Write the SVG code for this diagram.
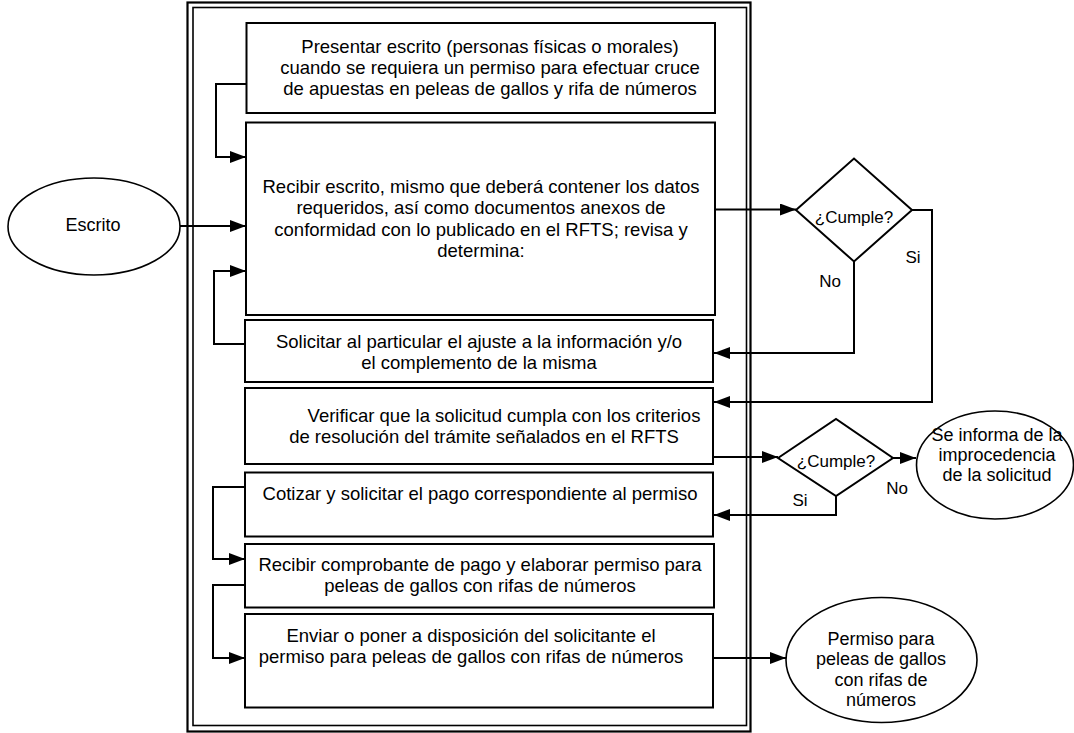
<svg xmlns="http://www.w3.org/2000/svg" width="1074" height="733" viewBox="0 0 1074 733">
  <style>
    text { font-family: "Liberation Sans", Arial, sans-serif; fill: #000; }
    .t { font-size: 18.5px; text-anchor: middle; }
    .e { font-size: 18px; text-anchor: middle; }
    .d { font-size: 17px; text-anchor: middle; }
    .lbl { font-size: 17px; text-anchor: middle; }
    .box { fill: #fff; stroke: #000; stroke-width: 2; }
    .oval { fill: #fff; stroke: #000; stroke-width: 1.6; }
    .dia { fill: #fff; stroke: #000; stroke-width: 2; }
    .frame-out { fill: none; stroke: #000; stroke-width: 2.2; }
    .frame-in { fill: none; stroke: #000; stroke-width: 1.6; }
    .wire { fill: none; stroke: #000; stroke-width: 2; }
  </style>
  <defs>
    <marker id="arrow" markerUnits="userSpaceOnUse" viewBox="0 0 16 12" refX="16" refY="6" markerWidth="16" markerHeight="12" orient="auto">
      <path d="M0,0 L16,6 L0,12 Z" fill="#000"/>
    </marker>
  </defs>

  <rect width="1074" height="733" fill="#fff"/>

  <!-- double frame around the process column -->
  <g id="frame">
    <rect class="frame-out" x="187.5" y="2.5" width="563" height="729"/>
    <rect class="frame-in" x="193" y="7.5" width="553.5" height="718"/>
  </g>

  <!-- process steps -->
  <g id="n-presentar">
    <rect class="box" x="246.5" y="23" width="468.5" height="90"/>
    <text class="t" x="490" y="52.5">Presentar escrito (personas físicas o morales)</text>
    <text class="t" x="490" y="73.5">cuando se requiera un permiso para efectuar cruce</text>
    <text class="t" x="490" y="94.5">de apuestas en peleas de gallos y rifa de números</text>
  </g>

  <g id="n-recibir">
    <rect class="box" x="246" y="122.5" width="469" height="192.5"/>
    <text class="t" x="481" y="192.5">Recibir escrito, mismo que deberá contener los datos</text>
    <text class="t" x="481" y="214">requeridos, así como documentos anexos de</text>
    <text class="t" x="481" y="235.5">conformidad con lo publicado en el RFTS; revisa y</text>
    <text class="t" x="481" y="257">determina:</text>
  </g>

  <g id="n-solicitar">
    <rect class="box" x="245" y="320" width="468" height="62"/>
    <text class="t" x="479" y="348">Solicitar al particular el ajuste a la información y/o</text>
    <text class="t" x="479" y="369">el complemento de la misma</text>
  </g>

  <g id="n-verificar">
    <rect class="box" x="245" y="388" width="468" height="76"/>
    <text class="t" x="504" y="421.5">Verificar que la solicitud cumpla con los criterios</text>
    <text class="t" x="484" y="442.5">de resolución del trámite señalados en el RFTS</text>
  </g>

  <g id="n-cotizar">
    <rect class="box" x="245" y="472.5" width="468" height="64"/>
    <text class="t" x="480" y="499.5">Cotizar y solicitar el pago correspondiente al permiso</text>
  </g>

  <g id="n-comprobante">
    <rect class="box" x="245" y="544" width="469" height="63.5"/>
    <text class="t" x="480" y="571">Recibir comprobante de pago y elaborar permiso para</text>
    <text class="t" x="480" y="591.5">peleas de gallos con rifas de números</text>
  </g>

  <g id="n-enviar">
    <rect class="box" x="245" y="614" width="468" height="93.5"/>
    <text class="t" x="471" y="641.5">Enviar o poner a disposición del solicitante el</text>
    <text class="t" x="471" y="662.5">permiso para peleas de gallos con rifas de números</text>
  </g>

  <!-- connectors -->
  <g id="connectors">
    <path class="wire" d="M180,226 H246" marker-end="url(#arrow)"/>
    <path class="wire" d="M246.5,84 H216 V157 H246" marker-end="url(#arrow)"/>
    <path class="wire" d="M245,344 H214 V271 H246" marker-end="url(#arrow)"/>
    <path class="wire" d="M715,209.5 H796" marker-end="url(#arrow)"/>
    <path class="wire" d="M854,262 V353 H714" marker-end="url(#arrow)"/>
    <path class="wire" d="M912,210 H932 V402 H714" marker-end="url(#arrow)"/>
    <path class="wire" d="M713,457 H778" marker-end="url(#arrow)"/>
    <path class="wire" d="M893,458 H916" marker-end="url(#arrow)"/>
    <path class="wire" d="M836,496 V515 H714" marker-end="url(#arrow)"/>
    <path class="wire" d="M245,487 H213 V559 H245" marker-end="url(#arrow)"/>
    <path class="wire" d="M245,585 H213 V658 H245" marker-end="url(#arrow)"/>
    <path class="wire" d="M713,658 H786" marker-end="url(#arrow)"/>
    <text class="lbl" x="830" y="287">No</text>
    <text class="lbl" x="913" y="262.5">Si</text>
    <text class="lbl" x="897" y="494">No</text>
    <text class="lbl" x="800" y="506">Si</text>
  </g>

  <!-- decisions -->
  <g id="n-cumple-1">
    <polygon class="dia" points="796,210 854,158.5 912,210 854,261.5"/>
    <text class="d" x="854" y="223">¿Cumple?</text>
  </g>

  <g id="n-cumple-2">
    <polygon class="dia" points="778,458 836,419 893,458 836,496"/>
    <text class="d" x="836" y="467">¿Cumple?</text>
  </g>

  <!-- terminals -->
  <g id="n-escrito">
    <ellipse class="oval" cx="94" cy="226.5" rx="86" ry="48.5"/>
    <text class="e" x="93" y="230.5">Escrito</text>
  </g>

  <g id="n-improcedencia">
    <ellipse class="oval" cx="995" cy="465" rx="78.5" ry="54"/>
    <text class="e" x="997" y="440.5">Se informa de la</text>
    <text class="e" x="997" y="460.5">improcedencia</text>
    <text class="e" x="997" y="480.5">de la solicitud</text>
  </g>

  <g id="n-permiso">
    <ellipse class="oval" cx="881.5" cy="660" rx="95.5" ry="62.5"/>
    <text class="e" x="881" y="644.5">Permiso para</text>
    <text class="e" x="881" y="665">peleas de gallos</text>
    <text class="e" x="881" y="685.5">con rifas de</text>
    <text class="e" x="881" y="705.5">números</text>
  </g>
</svg>
